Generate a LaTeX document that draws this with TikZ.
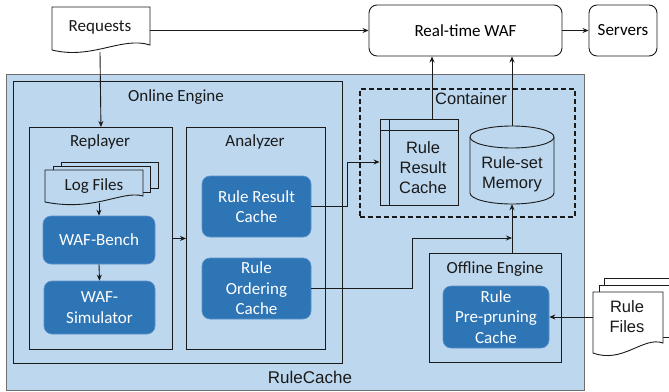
\documentclass[tikz,border=0pt]{standalone}
\usepackage{fontspec}
\setmainfont{Carlito}
\newfontfamily\arialf{Liberation Sans}
\usetikzlibrary{arrows.meta,calc}
\definecolor{lightb}{HTML}{BDD7EE}
\definecolor{darkb}{HTML}{2E75B6}
\definecolor{darkbd}{HTML}{5B8FC7}
\definecolor{edge}{HTML}{1A1A1A}
\definecolor{grayedge}{HTML}{6E6E6E}
\tikzset{
  cfont/.style={font=\fontsize{17}{20.5}\selectfont},
  afont/.style={font=\arialf\fontsize{16.5}{20}\selectfont},
  frame/.style={draw=edge, line width=0.9pt, fill=lightb, anchor=north west, inner sep=0pt},
  bluebox/.style={draw=darkbd, fill=darkb, rounded corners=8pt, text=white, align=center, cfont, line width=0.6pt, inner sep=0pt},
  whitebox/.style={draw=edge, fill=white, rounded corners=8pt, line width=0.9pt, cfont, inner sep=0pt},
  arr/.style={draw=edge, line width=0.9pt, -{Stealth[length=6pt,width=5pt]}},
  lbl/.style={cfont, inner sep=0pt, text=edge},
  albl/.style={afont, inner sep=0pt, text=edge, align=center},
  docline/.style={draw=edge, line width=0.9pt},
}
\begin{document}
\begin{tikzpicture}[x=1pt,y=-1pt]
\useasboundingbox (0,0) rectangle (669,391);

% outer RuleCache
\node[frame, draw=grayedge, line width=1pt, minimum width=578pt, minimum height=316pt] (rcbox) at (6,74) {};
\node[albl, font=\arialf\fontsize{17}{20}\selectfont] (rclbl) at (310,377) {RuleCache};

% online engine
\node[frame, minimum width=329pt, minimum height=282pt] (online) at (13,81) {};
\node[lbl] (onlinelbl) at (176,97) {Online Engine};

% replayer / analyzer
\node[frame, minimum width=143pt, minimum height=222pt] (replayer) at (29,127) {};
\node[lbl] (replbl) at (100,142) {Replayer};
\node[frame, minimum width=139pt, minimum height=222pt] (analyzer) at (186,127) {};
\node[lbl] (analbl) at (255,142) {Analyzer};

% log files (multi document)
\filldraw[docline, fill=lightb] (61,162) rectangle (158,188);
\filldraw[docline, fill=lightb] (53,166) rectangle (150,192);
\filldraw[docline, fill=lightb] (45,170) -- (143,170) -- (143,196)
   .. controls (122,190) and (95,212) .. (45,202) -- cycle;
\node[lbl] (logfiles) at (94,186) {Log Files};
\coordinate (logb) at (99,203);

% replayer blue boxes
\node[bluebox, minimum width=112pt, minimum height=48pt] (wafbench) at (99,240) {WAF-Bench};
\node[bluebox, minimum width=111pt, minimum height=53pt] (wafsim) at (99.5,307.5) {WAF-\\Simulator};

% analyzer blue boxes
\node[bluebox, minimum width=109pt, minimum height=61pt] (rrc) at (256.5,206.5) {Rule Result\\Cache};
\node[bluebox, minimum width=109pt, minimum height=61pt] (roc) at (256.5,288.5) {Rule\\Ordering\\Cache};

% container
\node[draw=edge, line width=1.6pt, dash pattern=on 5pt off 3pt, minimum width=215pt, minimum height=128pt, anchor=north west, inner sep=0pt] (cont) at (359,88) {};
\node[albl] (contlbl) at (471,99) {Container};

% container rule result cache (internal storage)
\node[draw=edge, line width=0.9pt, fill=lightb, minimum width=78pt, minimum height=86pt, inner sep=0pt] (crrc) at (419,162) {};
\draw[docline] (380,130) -- (458,130);
\draw[docline] (389,119) -- (389,205);
\node[albl] (crrclbl) at (423,168) {Rule\\Result\\Cache};

% rule-set memory cylinder
\node[minimum width=84pt, minimum height=78pt, inner sep=0pt] (mem) at (512,165) {};
\filldraw[docline, fill=lightb] (470,137) -- (470,193) arc[start angle=180, end angle=0, x radius=42, y radius=11] -- (554,137);
\filldraw[docline, fill=lightb] (512,137) ellipse [x radius=42, y radius=11];
\node[albl] (memlbl) at (512,174) {Rule-set\\Memory};

% offline engine
\node[frame, minimum width=132pt, minimum height=109pt] (offline) at (429,253) {};
\node[lbl] (offlbl) at (495,269) {Offline Engine};
\node[bluebox, minimum width=106pt, minimum height=62pt] (rpc) at (496,317) {Rule\\Pre-pruning\\Cache};

% top row
\node[whitebox, minimum width=193pt, minimum height=51pt] (waf) at (465.5,30.5) {Real-time WAF};
\node[whitebox, minimum width=68pt, minimum height=51pt] (servers) at (623,30.5) {Servers};

% requests document
\filldraw[docline, fill=white] (52,7) -- (150,7) -- (150,45)
   .. controls (122,36) and (92,60) .. (52,50) -- cycle;
\node[lbl] (req) at (100,27) {Requests};
\coordinate (reqr) at (150,30.5);
\coordinate (reqb) at (100,52);

% rule files document
\filldraw[docline, fill=white] (604,278) rectangle (676,330);
\filldraw[docline, fill=white] (599,285) rectangle (669,337);
\filldraw[docline, fill=white] (593,292) -- (663,292) -- (663,343)
   .. controls (643,336) and (623,364) .. (593,353) -- cycle;
\node[albl] (rulefiles) at (627,317) {Rule\\Files};
\coordinate (rfl) at (593,317);

% connectors
\draw[arr] (reqb) -- (replayer.north);
\draw[arr] (reqr) -- (waf.west);
\draw[arr] (waf.east) -- (servers.west);
\draw[arr] (logb) -- (wafbench.north);
\draw[arr] (wafbench.south) -- (wafsim.north);
\draw[arr] (replayer.east) -- (analyzer.west);
\draw[arr] (rrc.east) -- ++(36,0) |- (crrc.west);
\coordinate (j) at (512,238);
\draw[arr] (roc.east) -- ++(101,0) |- (j);
\draw[arr] (offline.north -| mem.south) -- (mem.south);
\coordinate (crrctop) at (432,119);
\draw[arr] (crrctop) -- (crrctop |- waf.south);
\draw[arr] (mem.north) -- (mem.north |- waf.south);
\draw[arr] (rfl) -- (rpc.east);
\end{tikzpicture}
\end{document}
